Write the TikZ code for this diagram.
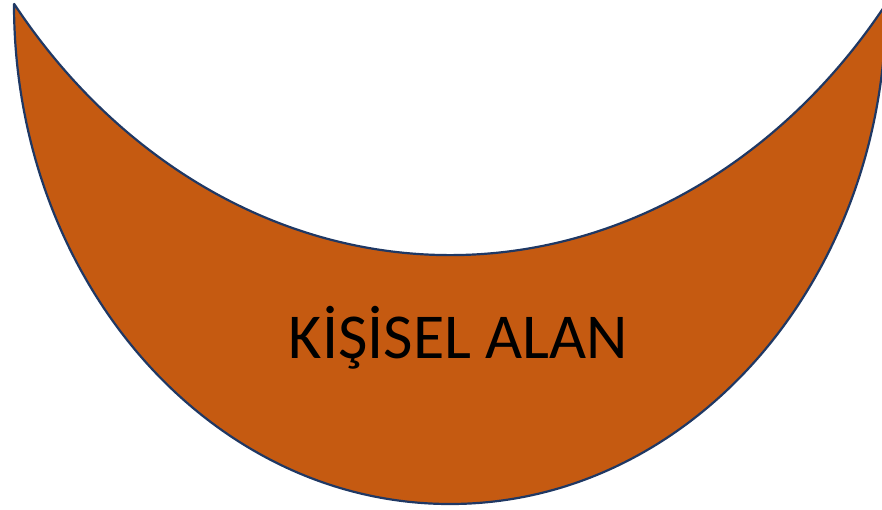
\documentclass[tikz,border=0pt]{standalone}
\usepackage{fontspec}
\setmainfont{Carlito}
\definecolor{moonfill}{HTML}{C55A11}
\definecolor{moonline}{HTML}{1F3864}
\begin{document}
\begin{tikzpicture}[x=1pt,y=1pt,
  moon/.style={fill=moonfill,draw=moonline,line width=2.2pt,line join=round},
  lbl/.style={font=\fontsize{64}{72}\selectfont,text=black,inner sep=0pt,anchor=base}]
\useasboundingbox (0,0) rectangle (882,-509);
\coordinate (tl) at (14,-4);
\path[moon] (tl) arc[start angle=180,end angle=360,x radius=436,y radius=500]
  arc[start angle=-38.07,end angle=-141.93,x radius=553.7,y radius=655] -- cycle;
\node[lbl] (t) at (458.5,-358) {KİŞİSEL ALAN};
\end{tikzpicture}
\end{document}
